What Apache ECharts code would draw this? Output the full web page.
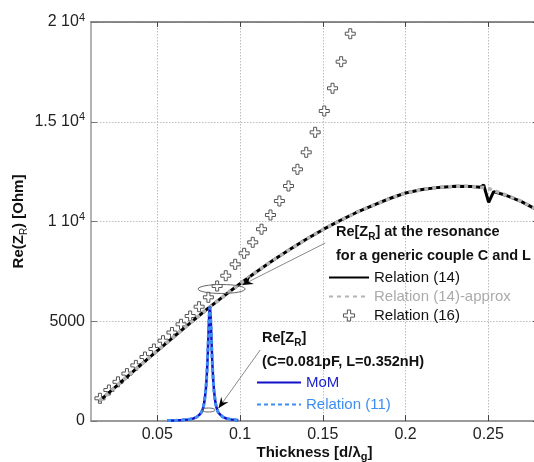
<!DOCTYPE html>
<html><head><meta charset="utf-8">
<script src="https://cdn.jsdelivr.net/npm/echarts@6/dist/echarts.min.js"></script>
<style>html,body{margin:0;padding:0;background:#fff}#c{width:534px;height:462px}</style>
</head><body><div id="c"></div><script>
// ---- data ----
const xTicks = [0.05, 0.1, 0.15, 0.2, 0.25];
const xTickLabels = ['0.05', '0.1', '0.15', '0.2', '0.25'];
const yTicks = [0, 5000, 10000, 15000, 20000];
const yTickLabels = ['0', '5000', '1 10{s|4}', '1.5 10{s|4}', '2 10{s|4}'];

// Relation (16) – crosses
const rel16X = [0.0154,0.0208,0.0263,0.0317,0.0371,0.0426,0.0480,0.0535,0.0589,0.0644,0.0699,0.0753,0.0809,0.0862,0.0914,0.0971,0.1025,0.1077,0.1130,0.1184,0.1238,0.1293,0.1347,0.1400,0.1454,0.1509,0.1559,0.1611,0.1666];
const rel16Y = [1138,1554,1965,2376,2787,3208,3609,4025,4436,4847,5263,5729,6200,6767,7283,7854,8406,8957,9614,10326,11028,11780,12617,13469,14471,15539,16677,18010,19413];

// Relation (14) and its approximation
const rel14X = [0.015,0.02,0.03,0.04,0.05,0.06,0.07,0.08,0.09,0.10,0.11,0.12,0.13,0.14,0.15,0.16,0.17,0.18,0.19,0.20,0.21,0.22,0.23,0.24,0.245,0.2472,0.2502,0.2532,0.26,0.27,0.28];
const rel14Y = [1000,1360,2090,2810,3520,4220,4920,5600,6250,6880,7480,8060,8600,9110,9590,10030,10440,10800,11140,11430,11600,11710,11770,11760,11720,11830,10960,11500,11330,11000,10560];
const rel14aY = [1000,1360,2090,2810,3520,4220,4920,5600,6250,6880,7480,8060,8600,9110,9590,10030,10440,10800,11140,11430,11600,11710,11770,11760,11720,11700,11650,11560,11350,11010,10570];

// MoM and Relation (11) – resonance peak
const momX = [0.056,0.060,0.065,0.0688,0.0718,0.0738,0.0758,0.0768,0.0778,0.0785,0.0793,0.0798,0.0803,0.0806,0.0810,0.0814,0.0818,0.0822,0.0826,0.0830,0.0833,0.0838,0.0843,0.0851,0.0858,0.0868,0.0878,0.0898,0.0918,0.0948,0.0990];
const momY = [20,27,45,75,126,195,337,440,670,960,1520,2070,2870,3500,4470,5350,5730,5350,4470,3500,2870,2070,1520,960,670,440,337,195,126,75,40];
const rel11Y = [20,27,46,76,128,198,340,445,680,975,1540,2100,2900,3520,4480,5330,5700,5330,4460,3490,2860,2060,1510,955,665,436,334,193,125,74,40];

const zip = (a, b) => a.map((v, i) => [v, b[i]]);

const FONT = 'Liberation Sans, Arial, sans-serif';
const crossPath = 'path://M3.5,0H6.5V3.5H10V6.5H6.5V10H3.5V6.5H0V3.5H3.5Z';

const chart = echarts.init(document.getElementById('c'), null, {renderer: 'canvas'});

const gridLine = {show: true, lineStyle: {color: '#bdbdbd', type: [1.5, 1.5], width: 1}};
const noSym = {opacity: 0};

chart.setOption({
  animation: false,
  backgroundColor: '#fff',
  grid: {left: 91, top: 22, right: -4, bottom: 41, containLabel: false, outerBoundsMode: 'none'},
  xAxis: [{
    type: 'value', min: 0.01, max: 0.28, position: 'bottom',
    axisLine: {show: true, onZero: false, lineStyle: {color: '#9a9a9a', width: 2}},
    axisTick: {show: true, inside: true, length: 6, customValues: xTicks, lineStyle: {color: '#444', width: 1}},
    axisLabel: {show: true, customValues: xTicks, margin: 6, fontSize: 16, color: '#222', fontFamily: FONT,
      formatter: v => { const i = xTicks.findIndex(t => Math.abs(t - v) < 1e-9); return i >= 0 ? xTickLabels[i] : ''; }},
    splitLine: gridLine,
    name: 'Thickness [d/λ{s|g}]', nameLocation: 'middle', nameGap: 23, nameMoveOverlap: false,
    nameTextStyle: {fontSize: 15, fontWeight: 'bold', color: '#111', fontFamily: FONT, lineHeight: 18,
      rich: {s: {fontSize: 11, fontWeight: 'bold', verticalAlign: 'bottom', lineHeight: 11, color: '#111', fontFamily: FONT}}}
  }, {
    type: 'value', min: 0.01, max: 0.28, position: 'top',
    axisLine: {show: true, onZero: false, lineStyle: {color: '#666', width: 1.5}},
    axisTick: {show: true, inside: true, length: 5, customValues: xTicks, lineStyle: {color: '#444'}},
    axisLabel: {show: false}, splitLine: {show: false}
  }],
  yAxis: [{
    type: 'value', min: 0, max: 20000, interval: 5000, position: 'left',
    axisLine: {show: true, onZero: false, lineStyle: {color: '#9a9a9a', width: 1.5}},
    axisTick: {show: true, inside: true, length: 6, lineStyle: {color: '#777'}},
    axisLabel: {margin: 6, fontSize: 16, color: '#222', fontFamily: FONT, lineHeight: 20,
      formatter: v => { const i = yTicks.indexOf(v); return i >= 0 ? yTickLabels[i] : ''; },
      rich: {s: {fontSize: 11, verticalAlign: 'top', lineHeight: 11, color: '#222', fontFamily: FONT}}},
    splitLine: gridLine,
    name: 'Re(Z{s|R}) [Ohm]', nameLocation: 'middle', nameGap: 62, nameRotate: 90, nameMoveOverlap: false,
    nameTextStyle: {fontSize: 15, fontWeight: 'bold', color: '#111', fontFamily: FONT, lineHeight: 20,
      rich: {s: {fontSize: 10, fontWeight: 'normal', verticalAlign: 'bottom', lineHeight: 10, color: '#111', fontFamily: FONT}}}
  }, {
    type: 'value', min: 0, max: 20000, interval: 5000, position: 'right',
    axisLine: {show: true, onZero: false, lineStyle: {color: '#666'}},
    axisTick: {show: true, inside: true, length: 5, lineStyle: {color: '#444'}},
    axisLabel: {show: false}, splitLine: {show: false}
  }],
  legend: [{
    orient: 'vertical', left: 328, top: 270, padding: 0, itemWidth: 40, itemHeight: 11, itemGap: 4,
    selectedMode: false,
    textStyle: {fontSize: 15, color: '#111', fontFamily: FONT},
    data: [
      {name: 'Relation (14)', itemStyle: noSym},
      {name: 'Relation (14)-approx', itemStyle: noSym, textStyle: {color: '#ababab'}},
      {name: 'Relation (16)', icon: crossPath, itemStyle: {color: '#fff', borderColor: '#555', borderWidth: 1}}
    ]
  }, {
    orient: 'vertical', left: 256, top: 375, padding: 0, itemWidth: 44, itemHeight: 14, itemGap: 7,
    selectedMode: false,
    textStyle: {fontSize: 15, color: '#111', fontFamily: FONT},
    data: [
      {name: 'MoM', itemStyle: noSym, textStyle: {color: '#1e22d0'}},
      {name: 'Relation (11)', itemStyle: noSym, textStyle: {color: '#3d8ef2'}}
    ]
  }],
  series: [{
    name: 'Relation (16)', type: 'scatter', data: zip(rel16X, rel16Y), z: 2,
    symbol: crossPath, symbolSize: 10,
    itemStyle: {color: '#fff', borderColor: '#555', borderWidth: 1, opacity: 1}
  }, {
    name: 'Relation (14)', type: 'line', data: zip(rel14X, rel14Y), z: 3,
    showSymbol: false, symbol: 'none', lineStyle: {color: '#000', width: 3}, itemStyle: {color: '#000'}
  }, {
    name: 'Relation (14)-approx', type: 'line', data: zip(rel14X, rel14aY), z: 4,
    showSymbol: false, symbol: 'none', lineStyle: {color: '#b4b4b4', width: 3.5, type: [4, 4]}, itemStyle: {color: '#b4b4b4'}
  }, {
    name: 'MoM', type: 'line', data: zip(momX, momY), z: 5,
    showSymbol: false, symbol: 'none', lineStyle: {color: '#1010c8', width: 2.5}, itemStyle: {color: '#1010c8'}
  }, {
    name: 'Relation (11)', type: 'line', data: zip(momX, rel11Y), z: 6,
    showSymbol: false, symbol: 'none', lineStyle: {color: '#3d8ef2', width: 3, type: [4, 3]}, itemStyle: {color: '#3d8ef2'}
  }]
});

// ---- annotations (positioned in data coordinates) ----
const P = (x, y) => chart.convertToPixel({gridIndex: 0}, [x, y]);
function arrowHead(p0, p1, len, w) {
  const dx = p1[0] - p0[0], dy = p1[1] - p0[1], L = Math.hypot(dx, dy);
  const ux = dx / L, uy = dy / L, px = -uy, py = ux;
  const bx = p1[0] - ux * len, by = p1[1] - uy * len;
  const nx = p1[0] - ux * len * 0.65, ny = p1[1] - uy * len * 0.65;
  return [[p1[0], p1[1]], [bx + px * w, by + py * w], [nx, ny], [bx - px * w, by - py * w]];
}
function annotation(ellC, ellR, from, to) {
  const c = P(ellC[0], ellC[1]);
  const e = P(ellC[0] + ellR[0], ellC[1] + ellR[1]);
  const a0 = P(from[0], from[1]), a1 = P(to[0], to[1]);
  return [
    {type: 'ellipse', z: 100, shape: {cx: c[0], cy: c[1], rx: Math.abs(e[0] - c[0]), ry: Math.abs(e[1] - c[1])},
      style: {fill: 'none', stroke: '#666', lineWidth: 1}},
    {type: 'line', z: 100, shape: {x1: a0[0], y1: a0[1], x2: a1[0], y2: a1[1]}, style: {stroke: '#8a8a8a', lineWidth: 1}},
    {type: 'polygon', z: 101, shape: {points: arrowHead(a0, a1, 11, 4.5)}, style: {fill: '#000'}}
  ];
}
const richSub = {s: {fontSize: 10, fontWeight: 'bold', verticalAlign: 'bottom', lineHeight: 10, fill: '#111', fontFamily: FONT}};
const titleStyle = t => ({text: t, fontSize: 14.5, fontWeight: 'bold', fontFamily: FONT, fill: '#111', lineHeight: 20, verticalAlign: 'middle', rich: richSub});

chart.setOption({
  graphic: [
    ...annotation([0.0889, 6617], [0.0142, 225], [0.1515, 8922], [0.1013, 6817]),
    ...annotation([0.0809, 551], [0.00405, 100], [0.1122, 3559], [0.0870, 637]),
    {type: 'text', z: 110, x: 336, y: 232, style: titleStyle('Re[Z{s|R}] at the resonance')},
    {type: 'text', z: 110, x: 336, y: 256, style: titleStyle('for a generic couple C and L')},
    {type: 'text', z: 110, x: 262, y: 338, style: titleStyle('Re[Z{s|R}]')},
    {type: 'text', z: 110, x: 262, y: 362, style: titleStyle('(C=0.081pF, L=0.352nH)')}
  ]
});
</script></body></html>
